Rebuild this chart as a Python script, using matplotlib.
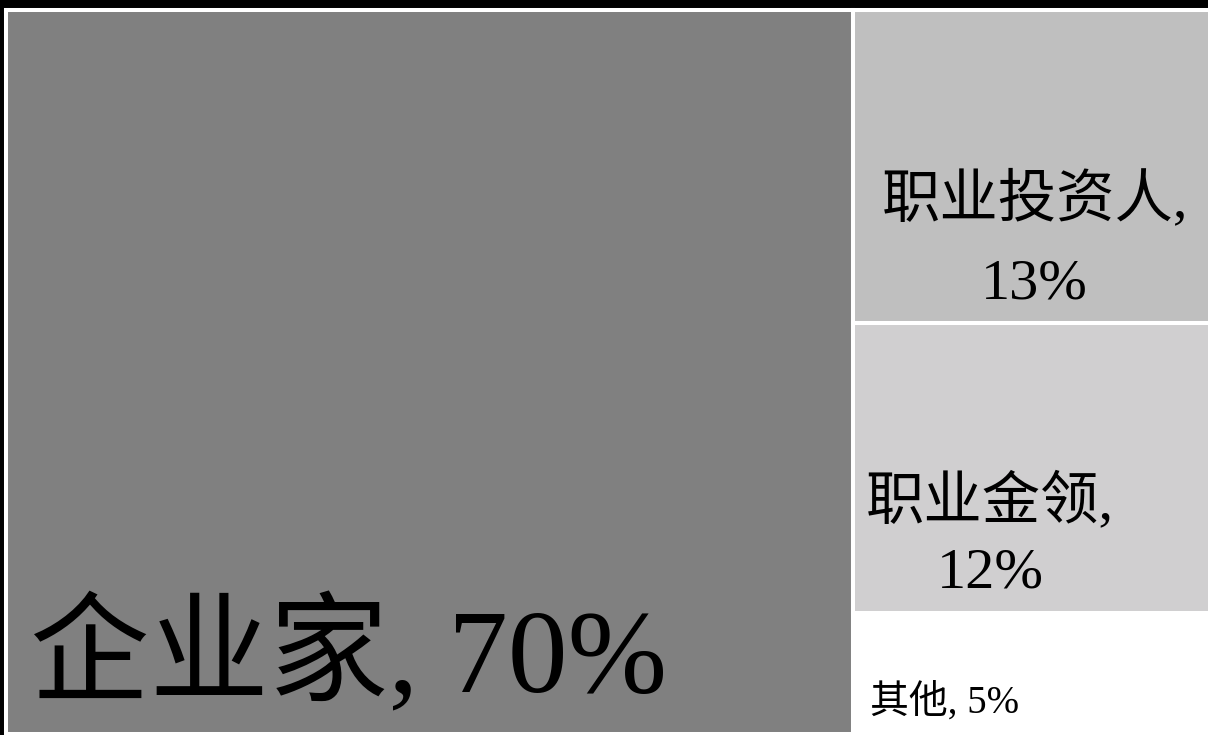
import matplotlib
matplotlib.use("Agg")
import matplotlib.pyplot as plt
from matplotlib.patches import Rectangle

# Share of each group (percent)
categories = ["企业家", "职业投资人", "职业金领", "其他"]
shares = [70, 13, 12, 5]
colors = ["#808080", "#bfbfbf", "#d0cfd0", "#ffffff"]

FONT = ["Liberation Serif", "Noto Sans CJK SC"]

fig = plt.figure(figsize=(12.08, 7.35), dpi=100, facecolor="black")
ax = fig.add_axes([6 / 1208, 1.5 / 735, 1210 / 1208, 724 / 735])
ax.set_xlim(0, 1)
ax.set_ylim(1, 0)
ax.axis("off")

# Slice-and-dice layout: the largest group takes a full-height column,
# the rest are stacked in the remaining column.
total = sum(shares)
first_w = shares[0] / total
rects = [(0.0, 0.0, first_w, 1.0)]
rest = sum(shares[1:])
y = 0.0
for s in shares[1:]:
    h = s / rest
    rects.append((first_w, y, 1.0 - first_w, h))
    y += h

for (x0, y0, w, h), c in zip(rects, colors):
    ax.add_patch(Rectangle((x0, y0), w, h, facecolor=c, edgecolor="white",
                           linewidth=2.9, clip_on=False))

def pct(v):
    return f"{v}%"

# Labels
ax.text(0.0198, 0.944, f"{categories[0]}, {pct(shares[0])}", family=FONT,
        fontsize=86, color="black", ha="left", va="baseline")

cx1 = rects[1][0] + rects[1][2] / 2
ax.text(cx1, 0.2852, f"{categories[1]},", family=FONT, fontsize=42,
        color="black", ha="center", va="baseline")
ax.text(cx1, 0.3985, pct(shares[1]), family=FONT, fontsize=42,
        color="black", ha="center", va="baseline")

cx2 = 0.8132
ax.text(cx2, 0.7023, f"{categories[2]},", family=FONT, fontsize=42,
        color="black", ha="center", va="baseline")
ax.text(cx2, 0.799, pct(shares[2]), family=FONT, fontsize=42,
        color="black", ha="center", va="baseline")

ax.text(0.714, 0.9717, f"{categories[3]}, {pct(shares[3])}", family=FONT,
        fontsize=28, color="black", ha="left", va="baseline")

fig.savefig("out.png", dpi=100, facecolor=fig.get_facecolor())
